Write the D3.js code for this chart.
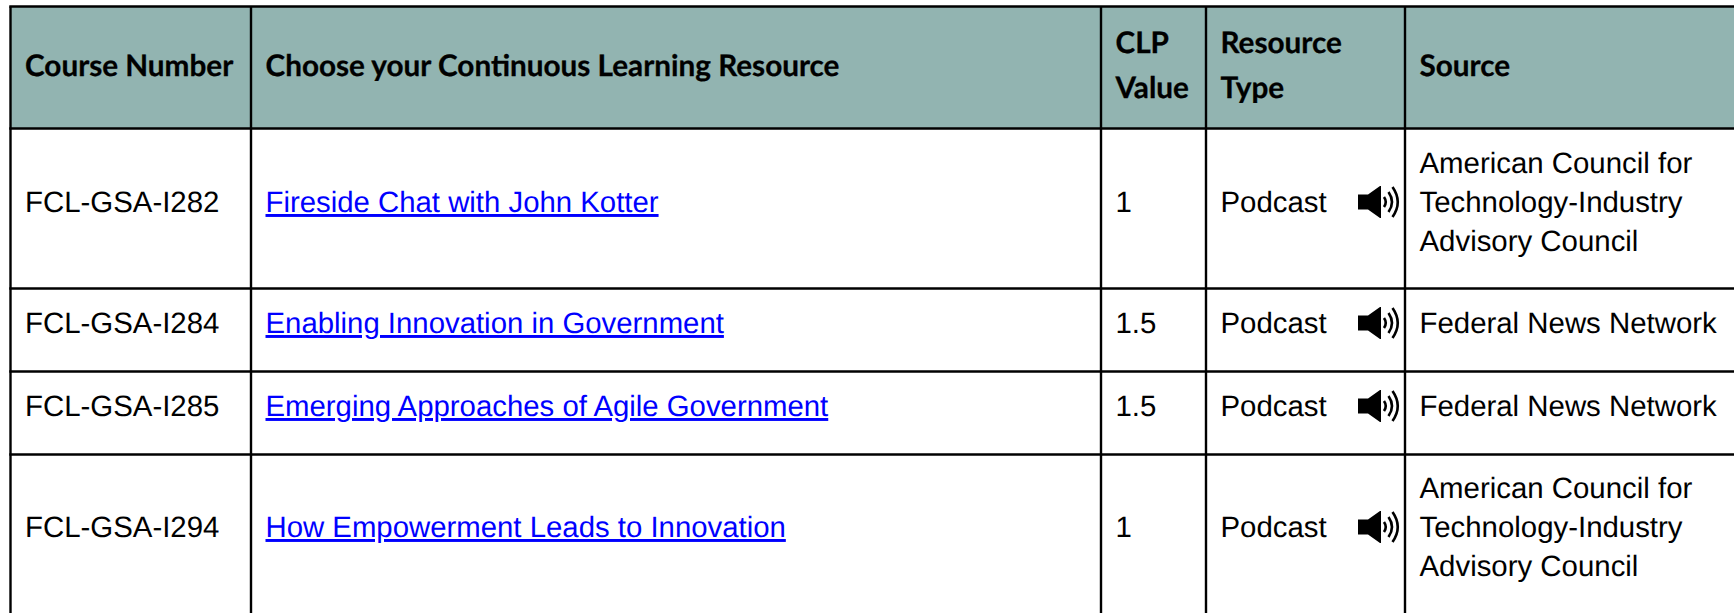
<!DOCTYPE html>
<html>
<head>
<meta charset="utf-8">
<title>Continuous Learning Resources</title>
<script src="https://cdn.jsdelivr.net/npm/d3@7/dist/d3.min.js"></script>
<style>
  html, body { margin: 0; padding: 0; background: #fff; overflow: hidden; }
  svg { display: block; }
  text { text-rendering: geometricPrecision; }
  .head { font-family: Lato, "Open Sans", sans-serif; font-weight: 700; font-size: 29.7px; fill: #000; stroke: #000; stroke-width: 0.3; }
  .cell { font-family: "Liberation Sans", Arial, sans-serif; font-size: 29.4px; fill: #000; }
  .link { font-size: 29.35px; fill: #0000ff; text-decoration: underline; text-decoration-thickness: 2.2px; }
  .rule { stroke: #000; stroke-width: 2.4; fill: none; }
</style>
</head>
<body>
<script>
var columns = ["number", "title", "clp", "type", "source"];
var headers = [["Course Number"], ["Choose your Continuous Learning Resource"], ["CLP", "Value"], ["Resource", "Type"], ["Source"]];
var courseNumbers = ["FCL-GSA-I282", "FCL-GSA-I284", "FCL-GSA-I285", "FCL-GSA-I294"];
var titles = ["Fireside Chat with John Kotter", "Enabling Innovation in Government", "Emerging Approaches of Agile Government", "How Empowerment Leads to Innovation"];
var clpValues = ["1", "1.5", "1.5", "1"];
var resourceTypes = ["Podcast", "Podcast", "Podcast", "Podcast"];
var sources = [
  ["American Council for", "Technology-Industry", "Advisory Council"],
  ["Federal News Network"],
  ["Federal News Network"],
  ["American Council for", "Technology-Industry", "Advisory Council"]
];

var width = 1734, height = 613;

// column lines and row lines
var colX = d3.scaleOrdinal().domain(columns).range([10.5, 251, 1101, 1206, 1405]);
var textPad = 14.5;
var rowY = d3.scaleOrdinal().domain(["head"].concat(courseNumbers).concat(["end"])).range([6.5, 128.5, 288.5, 371.5, 454.5, 613]);
var lineGap = 39;
var headGap = 45;

var svg = d3.select("body").append("svg").attr("width", width).attr("height", height);

// header band
svg.append("rect")
  .attr("x", colX("number")).attr("y", rowY("head"))
  .attr("width", width - colX("number")).attr("height", rowY(courseNumbers[0]) - rowY("head"))
  .attr("fill", "#92b4b1");

// rules
var hLines = rowY.domain().slice(0, 5);
svg.selectAll(".hrule").data(hLines).enter().append("line")
  .attr("class", "rule hrule")
  .attr("x1", colX("number") - 1.2).attr("x2", width)
  .attr("y1", function(d){ return rowY(d); })
  .attr("y2", function(d){ return rowY(d); });
svg.selectAll(".vrule").data(columns).enter().append("line")
  .attr("class", "rule vrule")
  .attr("x1", function(d){ return colX(d); })
  .attr("x2", function(d){ return colX(d); })
  .attr("y1", rowY("head")).attr("y2", height);

// header text, centred on the band
var headMid = (rowY("head") + rowY(courseNumbers[0])) / 2;
columns.forEach(function(c, i){
  var lines = headers[i];
  svg.selectAll(".h" + i).data(lines).enter().append("text")
    .attr("class", "head h" + i)
    .attr("x", colX(c) + textPad)
    .attr("y", function(d, j){ return headMid + 8 + (j - (lines.length - 1) / 2) * headGap; })
    .text(function(d){ return d; });
});

// body rows
var rows = courseNumbers.map(function(n, i){
  return { key: n, number: n, title: titles[i], clp: clpValues[i], type: resourceTypes[i], source: sources[i] };
});

function rowBase(d) {
  var keys = rowY.domain();
  var next = keys[keys.indexOf(d.key) + 1];
  return Math.round((rowY(d.key) + rowY(next)) / 2 + 3);
}

var row = svg.selectAll(".row").data(rows).enter().append("g").attr("class", "row");

["number", "clp", "type"].forEach(function(c){
  row.append("text").attr("class", "cell")
    .attr("x", colX(c) + textPad)
    .attr("y", function(d){ return rowBase(d); })
    .text(function(d){ return d[c]; });
});

row.append("a").attr("href", "#").append("text")
  .attr("class", "cell link")
  .attr("x", colX("title") + textPad)
  .attr("y", function(d){ return rowBase(d); })
  .text(function(d){ return d.title; });

row.each(function(d){
  var base = rowBase(d);
  d3.select(this).selectAll(".src").data(d.source).enter().append("text")
    .attr("class", "cell src")
    .attr("x", colX("source") + textPad)
    .attr("y", function(t, j){ return base + (j - (d.source.length - 1) / 2) * lineGap; })
    .text(function(t){ return t; });
});

// speaker icon next to the resource type
var icon = row.append("g")
  .attr("transform", function(d){ return "translate(" + (colX("source") - 47) + "," + (rowBase(d) - 10) + ")"; });
icon.append("path")
  .attr("d", "M0,-7.5 H10 L22,-16 H23 V16 H22 L10,7.5 H0 Z")
  .attr("fill", "#000");
icon.selectAll(".wave").data([[26, 5], [30.5, 10], [34.5, 15]]).enter().append("path")
  .attr("d", function(w){ return "M" + w[0] + "," + (-w[1]) + " Q" + (w[0] + w[1] * 0.7) + ",0 " + w[0] + "," + w[1]; })
  .attr("fill", "none").attr("stroke", "#000").attr("stroke-width", 2.6);
</script>
</body>
</html>
